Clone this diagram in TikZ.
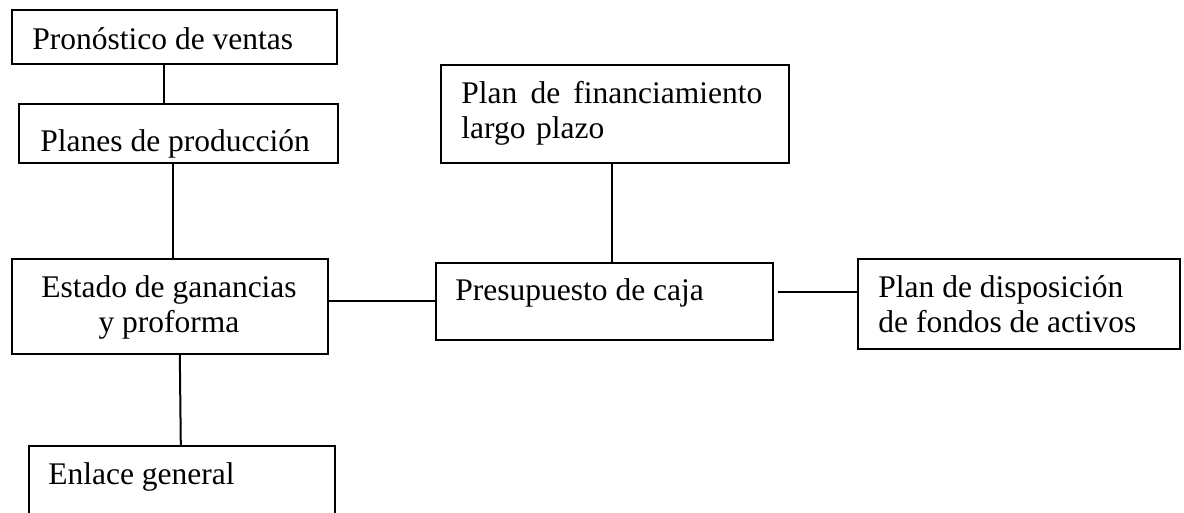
\documentclass[tikz,border=0pt]{standalone}
\usepackage{fontspec}
\setmainfont{Liberation Serif}
\usetikzlibrary{positioning}

\tikzset{
  caja/.style={draw, line width=0.8pt, inner sep=0pt, anchor=north west},
  texto/.style={anchor=base west, inner sep=0pt, font=\fontsize{15.75}{17.5}\selectfont},
  enlace/.style={line width=1pt},
}

\begin{document}
\begin{tikzpicture}[x=0.5pt, y=-0.5pt]
        \useasboundingbox (0,0) rectangle (1184,513);
        \clip (0,0) rectangle (1184,513);

        % cajas
        \node[caja, minimum width=162.5pt, minimum height=27pt] (ventas) at (11,9) {};
        \node[caja, minimum width=159.5pt, minimum height=29.5pt] (produccion) at (18,103) {};
        \node[caja, minimum width=158pt, minimum height=47.5pt] (estado) at (11,258) {};
        \node[caja, minimum width=153pt, minimum height=45pt] (general) at (28,445) {};
        \node[caja, minimum width=168.5pt, minimum height=38.5pt] (presupuesto) at (435,262) {};
        \node[caja, minimum width=161pt, minimum height=45pt] (disposicion) at (857,258) {};
        \node[caja, minimum width=174pt, minimum height=49pt] (financiamiento) at (440,64) {};

        % textos
        \node[texto] (tventas) at (32,50) {Pronóstico de ventas};
        \node[texto] (tproduccion) at (40,152) {Planes de producción};
        \node[texto, anchor=base, align=center] (testado) at (169,333) {Estado de ganancias\\y proforma};
        \node[texto] (tgeneral) at (48,484) {Enlace general};
        \node[texto] (tpresupuesto) at (455,301) {Presupuesto de caja};
        \node[texto, align=left] (tdisposicion) at (878,333) {Plan de disposición\\de fondos de activos};
        \node[texto, align=left, text width=150.5pt] (tfinanciamiento) at (461,104) {Plan\hfill de\hfill financiamiento\\largo plazo};

        % lineas
        \draw[enlace] ([xshift=-5.25pt]ventas.south) -- ([xshift=-5.25pt]ventas.south |- produccion.north);
        \draw[enlace] ([xshift=-2.75pt]produccion.south) -- ([xshift=-2.75pt]produccion.south |- estado.north);
        \draw[enlace] ([xshift=5pt]estado.south) -- ([xshift=-0.5pt]general.north);
        \draw[enlace] ([yshift=2.75pt]estado.east) -- ([yshift=2.75pt]estado.east -| presupuesto.west);
        \draw[enlace] ([xshift=2pt,yshift=4.5pt]presupuesto.east) -- ([yshift=4.5pt]presupuesto.east -| disposicion.west);
        \draw[enlace] ([xshift=-1.5pt]financiamiento.south) -- ([xshift=-1.5pt]financiamiento.south |- presupuesto.north);
    \end{tikzpicture}
\end{document}
